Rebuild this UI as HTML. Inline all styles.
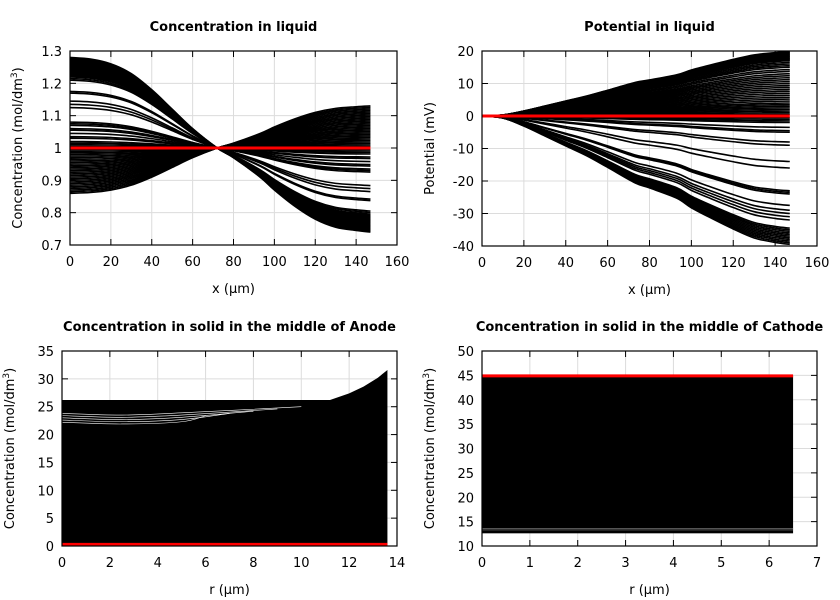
<!DOCTYPE html>
<html><head><meta charset="utf-8"><style>
body{margin:0;background:#fff}
svg{display:block;font-family:"DejaVu Sans","Liberation Sans",sans-serif}
.t{font-size:13px;font-weight:bold;text-anchor:middle}
.k{font-size:13px}
.g{stroke:#dcdcdc;stroke-width:1}
</style></head><body>
<svg id="s" width="840" height="600" xmlns="http://www.w3.org/2000/svg"></svg>
<script>
// ---- data ----
const p1X=[0,10,20,30,40,50,60,72,80,93,100,110,120,130,140,147];
const p1Profile=[1,0.982,0.929,0.821,0.643,0.429,0.214,0,-0.107,-0.321,-0.464,-0.643,-0.786,-0.875,-0.911,-0.929];
const p1Amp=[0.28,0.277,0.274,0.271,0.268,0.265,0.262,0.259,0.256,0.253,0.25,0.247,0.244,0.241,0.238,0.235,0.232,0.229,0.226,0.223,0.22,0.215,0.21,0.175,0.17,0.145,0.135,0.125,0.08,0.075,0.07,0.06,0.055,0.045,0.035,0.03,0.02,0.015,0.01,0.005,-0.005,-0.01,-0.015,-0.02,-0.025,-0.03,-0.035,-0.04,-0.045,-0.05,-0.055,-0.06,-0.065,-0.07,-0.075,-0.08,-0.085,-0.09,-0.095,-0.1,-0.105,-0.11,-0.115,-0.12,-0.125,-0.13,-0.135,-0.14];
const p2X=[0,10,20,30,40,50,60,73,80,93,100,110,120,130,140,147];
const p2Profile=[0,0.016,0.078,0.155,0.233,0.31,0.4,0.52,0.56,0.64,0.715,0.8,0.88,0.95,0.985,1];
const p2Amp=[19.8,19.6,19.4,19.2,19,18.8,18.6,18.4,18.2,18,17.8,17.6,17.4,17.2,17,16.5,16,15.5,15,14.3,13.7,13,12.4,11.8,11.2,10.6,10,9.4,8.8,8.2,7.6,7,6.4,5.8,5.2,4.6,4,3.5,3,2.5,2,1.5,1,0.5,-0.5,-1,-1.5,-2,-3.5,-4.5,-5,-8,-9,-14,-16,-23,-23.5,-24,-27.5,-29,-30,-31,-32,-34.5,-35,-35.5,-36,-36.5,-37,-37.5,-38,-38.5,-39,-39.5];
const p3X=[0,2,4,6,8,10,11.2,12,12.6,13.2,13.6];
const p3Top=[26.2,26.2,26.2,26.2,26.2,26.2,26.2,27.4,28.6,30.2,31.6];
const p3GapY=[22.2,22.6,23,23.4,23.8];
const p4Top=[45];
const p4Bottom=[12.6];
const p4Gray=[13.3,13.6];
const p1XTicks=[0,20,40,60,80,100,120,140,160];
const p1YTicks=[0.7,0.8,0.9,1,1.1,1.2,1.3];
const p2YTicks=[-40,-30,-20,-10,0,10,20];
const p3XTicks=[0,2,4,6,8,10,12,14];
const p3YTicks=[0,5,10,15,20,25,30,35];
const p4XTicks=[0,1,2,3,4,5,6,7];
const p4YTicks=[10,15,20,25,30,35,40,45,50];

const S=document.getElementById('s');const NS='http://www.w3.org/2000/svg';
function mk(t,a,par){const e=document.createElementNS(NS,t);for(const k in a)e.setAttribute(k,a[k]);(par||S).appendChild(e);return e;}
function panel(name,L,T,R,B,x0,x1,y0,y1,xt,yt,title,xl,yl){
 const g=mk('g',{});
 
 
 const sx=v=>L+(v-x0)/(x1-x0)*(R-L), sy=v=>B-(v-y0)/(y1-y0)*(B-T);
 xt.forEach(v=>{const l=mk('line',{x1:sx(v),x2:sx(v),y1:T,y2:B,class:'g'},g);
  
  mk('line',{x1:sx(v),x2:sx(v),y1:B,y2:B-6,stroke:'#000'},g);mk('line',{x1:sx(v),x2:sx(v),y1:T,y2:T+6,stroke:'#000'},g);
  const t=mk('text',{x:sx(v),y:B+21,class:'k','text-anchor':'middle'},g);t.textContent=v;
  });
 yt.forEach(v=>{const l=mk('line',{x1:L,x2:R,y1:sy(v),y2:sy(v),class:'g'},g);
  
  mk('line',{x1:L,x2:L+6,y1:sy(v),y2:sy(v),stroke:'#000'},g);mk('line',{x1:R,x2:R-6,y1:sy(v),y2:sy(v),stroke:'#000'},g);
  const t=mk('text',{x:L-8,y:sy(v)+5,class:'k','text-anchor':'end'},g);t.textContent=v;
  });
 const tt=mk('text',{x:(L+R)/2,y:T-20,class:'t'},g);tt.textContent=title;
 
 const xa=mk('text',{x:(L+R)/2,y:B+48,class:'k','text-anchor':'middle'},g);xa.textContent=xl;
 
 const ya=mk('text',{x:0,y:0,class:'k','text-anchor':'middle',transform:`translate(${L-48},${(T+B)/2}) rotate(-90)`},g);ya.innerHTML=yl;
 
 const d=mk('g',{},g);
 const fr=()=>{const r=mk('rect',{x:L,y:T,width:R-L,height:B-T,fill:'none',stroke:'#000','stroke-width':1.2},g);
  };
 return {d,sx,sy,fr};
}
function smooth(pts){let s='M'+pts[0][0]+','+pts[0][1];
 for(let i=0;i<pts.length-1;i++){const p0=pts[Math.max(0,i-1)],p1=pts[i],p2=pts[i+1],p3=pts[Math.min(pts.length-1,i+2)];
  const c1=[p1[0]+(p2[0]-p0[0])/6,p1[1]+(p2[1]-p0[1])/6],c2=[p2[0]-(p3[0]-p1[0])/6,p2[1]-(p3[1]-p1[1])/6];
  s+=` C${c1[0]},${c1[1]} ${c2[0]},${c2[1]} ${p2[0]},${p2[1]}`;}return s;}
function curve(par,pts,col,w,name){const e=mk('path',{d:smooth(pts),fill:'none',stroke:col,'stroke-width':w},par);
 return e;}
function line(par,pts,col,w,name){const e=mk('polyline',{points:pts.map(p=>p.join(',')).join(' '),fill:'none',stroke:col,'stroke-width':w},par);
 return e;}

// Panel 1
let P=panel('panel-liquid-concentration',70,51,397,245,0,160,0.7,1.3,p1XTicks,p1YTicks,'Concentration in liquid','x (µm)','Concentration (mol/dm<tspan dy="-5" font-size="9">3</tspan><tspan dy="5">)</tspan>');
p1Amp.forEach(a=>curve(P.d,p1X.map((x,i)=>[P.sx(x),P.sy(1+a*p1Profile[i])]),'#000',1.6,'concentration-curve'));
line(P.d,[[P.sx(0),P.sy(1)],[P.sx(147),P.sy(1)]],'#f00',3,'initial-concentration-line');P.fr();

// Panel 2
P=panel('panel-liquid-potential',482,51,817,246,0,160,-40,20,p1XTicks,p2YTicks,'Potential in liquid','x (µm)','Potential (mV)');
p2Amp.forEach(a=>curve(P.d,p2X.map((x,i)=>[P.sx(x),P.sy(a*p2Profile[i])]),'#000',1.6,'potential-curve'));
line(P.d,[[P.sx(0),P.sy(0)],[P.sx(147),P.sy(0)]],'#f00',3,'initial-potential-line');P.fr();

// Panel 3
P=panel('panel-anode-solid',62,351,397,546,0,14,0,35,p3XTicks,p3YTicks,'Concentration in solid in the middle of Anode','r (µm)','Concentration (mol/dm<tspan dy="-5" font-size="9">3</tspan><tspan dy="5">)</tspan>');
{const pts=p3X.map((x,i)=>[P.sx(x),P.sy(p3Top[i])]);pts.push([P.sx(13.6),P.sy(0)],[P.sx(0),P.sy(0)]);
 const e=mk('polygon',{points:pts.map(p=>p.join(',')).join(' '),fill:'#000'},P.d);
 }
p3GapY.forEach((v,i)=>curve(P.d,[[P.sx(0),P.sy(v)],[P.sx(2.5),P.sy(v-0.3)],[P.sx(5),P.sy(v+0.1)],[P.sx(6+i),P.sy(v+1.2)]],'#fff',0.6,'anode-gap-line'));
line(P.d,[[P.sx(0),P.sy(0.3)],[P.sx(13.6),P.sy(0.3)]],'#f00',3,'anode-initial-line');P.fr();

// Panel 4
P=panel('panel-cathode-solid',482,351,817,546,0,7,10,50,p4XTicks,p4YTicks,'Concentration in solid in the middle of Cathode','r (µm)','Concentration (mol/dm<tspan dy="-5" font-size="9">3</tspan><tspan dy="5">)</tspan>');
{const e=mk('rect',{x:P.sx(0),y:P.sy(p4Top[0]),width:P.sx(6.5)-P.sx(0),height:P.sy(p4Bottom[0])-P.sy(p4Top[0]),fill:'#000'},P.d);
 }
p4Gray.forEach(v=>line(P.d,[[P.sx(0),P.sy(v)],[P.sx(6.5),P.sy(v)]],'#888',0.7,'cathode-gap-line'));
line(P.d,[[P.sx(0),P.sy(44.9)],[P.sx(6.5),P.sy(44.9)]],'#f00',3,'cathode-initial-line');P.fr();
</script>
</body></html>
